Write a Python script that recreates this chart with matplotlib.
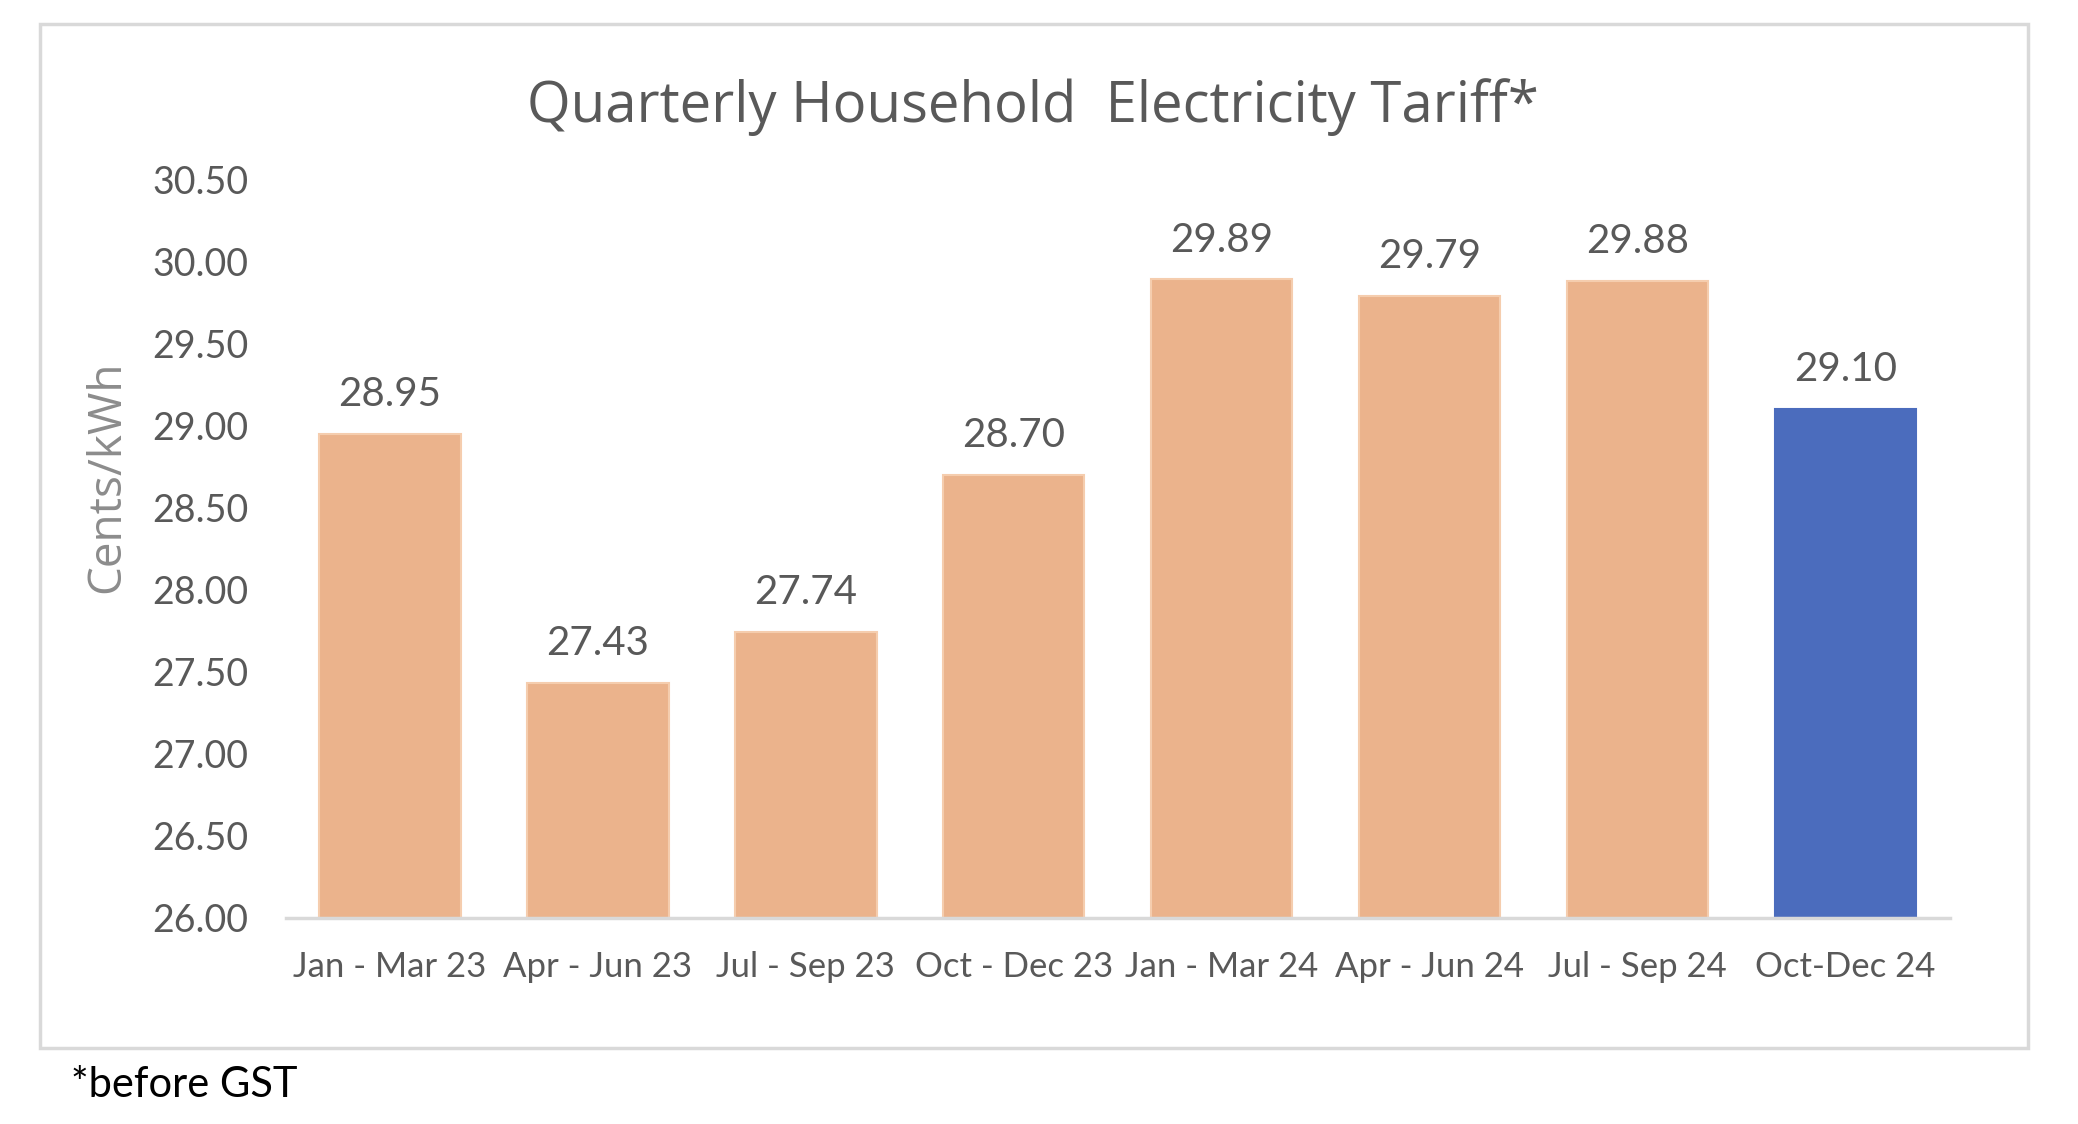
import matplotlib.pyplot as plt
from matplotlib.patches import Rectangle

# quarterly tariff, cents/kWh (before GST)
quarters = ['Jan - Mar 23', 'Apr - Jun 23', 'Jul - Sep 23', 'Oct - Dec 23',
            'Jan - Mar 24', 'Apr - Jun 24', 'Jul - Sep 24', 'Oct-Dec 24']
tariffs = [28.95, 27.43, 27.74, 28.70, 29.89, 29.79, 29.88, 29.10]
y_ticks = [26.00, 26.50, 27.00, 27.50, 28.00, 28.50, 29.00, 29.50, 30.00, 30.50]

ORANGE = '#EBB38C'
ORANGE_EDGE = '#F5CDAE'
BLUE = '#4B6CBD'
GREY = '#595959'

narrow = ['Lato', 'DejaVu Sans']

fig = plt.figure(figsize=(20.78, 11.24), dpi=100)
ax = fig.add_axes([0.1376, 0.1835, 0.8006, 0.6569])

# outer chart frame
fig.patches.append(Rectangle((0.0192, 0.0676), 0.9565, 0.9110, transform=fig.transFigure,
                             fill=False, edgecolor='#D9D9D9', linewidth=2.5))

colors = [ORANGE] * (len(tariffs) - 1) + [BLUE]
edges = [ORANGE_EDGE] * (len(tariffs) - 1) + [BLUE]
x = range(len(quarters))
bars = ax.bar(x, [t - 26.0 for t in tariffs], bottom=26.0, width=0.68,
              color=colors, edgecolor=edges, linewidth=1.5, zorder=2)

for b, t in zip(bars, tariffs):
    ax.annotate(f'{t:.2f}', (b.get_x() + b.get_width() / 2, t),
                xytext=(0, 15), textcoords='offset points', ha='center', va='bottom',
                fontsize=29, color=GREY, family=narrow)

ax.set_xlim(-0.5, len(quarters) - 0.5)
ax.set_ylim(26.0, 30.5)
ax.set_yticks(y_ticks)
ax.set_yticklabels([f'{v:.2f}' for v in y_ticks], family=narrow, fontsize=27, color=GREY)
ax.set_xticks(list(x))
ax.set_xticklabels(quarters, family=narrow, fontsize=25, color=GREY)
ax.tick_params(length=0)
ax.tick_params(axis='y', pad=27)
ax.tick_params(axis='x', pad=24)

for s in ['top', 'right', 'left']:
    ax.spines[s].set_visible(False)
ax.spines['bottom'].set_color('#D9D9D9')
ax.spines['bottom'].set_linewidth(2.5)

fig.text(0.497, 0.905, 'Quarterly Household  Electricity Tariff*', ha='center', va='center',
         fontsize=40.5, color=GREY, family=['Open Sans', 'DejaVu Sans'])
fig.text(0.0515, 0.576, 'Cents/kWh', rotation=90, ha='center', va='center',
         fontsize=33, color='#8C8C8C', family=['Open Sans', 'DejaVu Sans'])
fig.text(0.034, 0.035, '*before GST', ha='left', va='center',
         fontsize=30, color='black', family=['Lato', 'DejaVu Sans'])

fig.savefig('out.png', dpi=100)
